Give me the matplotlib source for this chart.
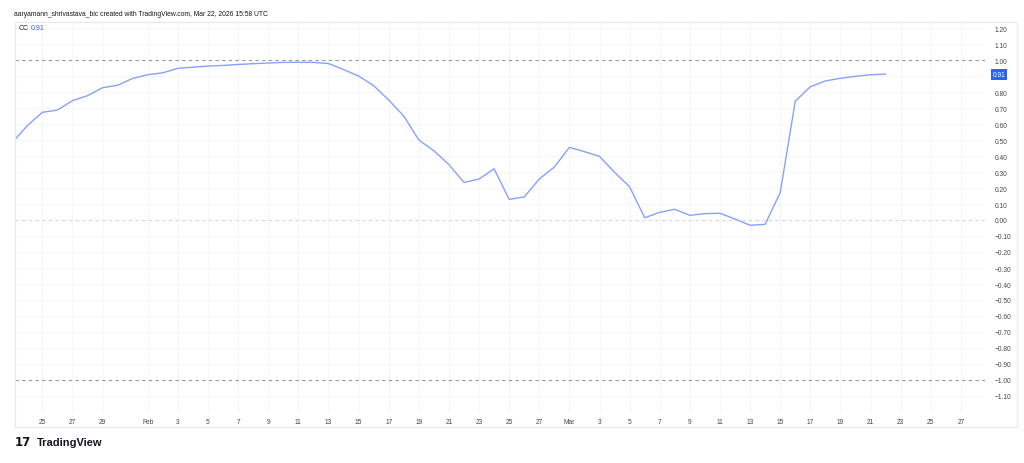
import matplotlib
matplotlib.use("Agg")
import matplotlib.pyplot as plt
import matplotlib.dates as mdates
from matplotlib.patches import Rectangle
import pandas as pd

# Correlation Coefficient (CC) daily values, Jan 23 -> Mar 22 2026
start_day = "2026-01-23"
cc_values = [
    0.484, 0.59, 0.673, 0.687, 0.746, 0.777, 0.827, 0.842, 0.885,            # Jan 23-31
    0.908, 0.92, 0.948, 0.955, 0.962, 0.966, 0.972, 0.977, 0.981, 0.985,     # Feb 1-10
    0.986, 0.985, 0.978, 0.94, 0.90, 0.84, 0.75, 0.65, 0.50, 0.433,          # Feb 11-20
    0.346, 0.235, 0.256, 0.32, 0.129, 0.144, 0.256, 0.331,                   # Feb 21-28
    0.454, 0.427, 0.398, 0.298, 0.208, 0.014, 0.048, 0.067, 0.029, 0.04,     # Mar 1-10
    0.042, 0.006, -0.033, -0.027, 0.171, 0.742, 0.833, 0.869, 0.886, 0.898,  # Mar 11-20
    0.908, 0.912,                                                            # Mar 21-22
]
last_label = "0.91"
tick_dates = (["2026-01-25", "2026-01-27", "2026-01-29", "2026-02-01"]
              + ["2026-02-%02d" % d for d in range(3, 28, 2)]
              + ["2026-03-01"]
              + ["2026-03-%02d" % d for d in range(3, 28, 2)])
tick_labels = (["25", "27", "29", "Feb"] + [str(d) for d in range(3, 28, 2)]
               + ["Mar"] + [str(d) for d in range(3, 28, 2)])
y_ticks = [round(-1.1 + 0.1 * i, 2) for i in range(24)]   # -1.10 .. 1.20
header = "aaryamann_shrivastava_bic created with TradingView.com, Mar 22, 2026 15:58 UTC"

dates = pd.date_range(start_day, periods=len(cc_values), freq="D")
ticks = pd.to_datetime(tick_dates)

plt.rcParams['font.family'] = ['Liberation Sans', 'DejaVu Sans']
W, H = 1024, 464
fig = plt.figure(figsize=(W / 100, H / 100), dpi=100)
fig.patch.set_facecolor('white')

# pane: x 14.5..985, y 23..413 (pixels)
ax = fig.add_axes([14.5 / W, 1 - 413 / H, (985 - 14.5) / W, (413 - 23) / H])
x0 = mdates.date2num(pd.Timestamp("2026-01-25"))
ax.set_xlim(x0 - 1.85, x0 + 62.6)
ax.set_ylim(-1.2, 1.2375)

grid_c = '#f3f5fa'
for t in ticks:
    ax.axvline(t, color=grid_c, lw=0.7, zorder=0)
for v in y_ticks:
    if abs(v) in (0.0, 1.0):
        continue
    ax.axhline(v, color=grid_c, lw=0.7, zorder=0)
ax.axhline(1.0, color='#9598a1', lw=0.8, ls=(0, (3, 3)), zorder=1)
ax.axhline(-1.0, color='#9598a1', lw=0.8, ls=(0, (3, 3)), zorder=1)
ax.axhline(0.0, color='#d6d8de', lw=0.8, ls=(0, (3, 3)), zorder=1)

ax.plot(dates, cc_values, color='#86a2fc', lw=1.0, zorder=3)

ax.set_xticks(ticks)
ax.set_xticklabels(tick_labels)
ax.tick_params(axis='x', length=0, pad=4, labelsize=4.8, colors='#434651')
ax.yaxis.tick_right()
ax.set_yticks(y_ticks)
# the 0.90 label is hidden under the last-value tag
ax.set_yticklabels(["" if v == 0.9 else ("%.2f" % v if v >= 0 else "\u2212%.2f" % abs(v))
                    for v in y_ticks])
ax.tick_params(axis='y', length=0, pad=7, labelsize=4.8, colors='#434651')
for lbl in ax.get_yticklabels():
    lbl.set_horizontalalignment('left')
for s in ax.spines.values():
    s.set_visible(False)

# last value tag
ax.annotate(last_label, xy=(1.0, cc_values[-1]), xycoords=('axes fraction', 'data'),
            xytext=(5.5, 0), textcoords='offset points', ha='left', va='center',
            fontsize=4.8, color='white',
            bbox=dict(boxstyle='square,pad=0.3', fc='#2962ff', ec='none'))

# outer frame
fig.patches.append(Rectangle((14.5 / W, 1 - 428 / H), (1017 - 14.5) / W, (428 - 23) / H,
                             transform=fig.transFigure, fill=False, ec='#e6e8ee', lw=0.8))

fig.text(14 / W, 1 - 15 / H, header, fontsize=4.9, color='#131722', va='center', ha='left')
fig.text(19 / W, 1 - 28.5 / H, "CC", fontsize=5, color='#131722', va='center', ha='left')
fig.text(30.5 / W, 1 - 28.5 / H, last_label, fontsize=5, color='#2962ff', va='center', ha='left')

fig.text(15 / W, 1 - 443 / H, "17", fontsize=8.5, fontweight='heavy', color='#131722',
         va='center', ha='left', family='DejaVu Sans')
fig.text(37 / W, 1 - 443 / H, "TradingView", fontsize=8, fontweight='bold', color='#131722',
         va='center', ha='left')

fig.savefig('out.png', dpi=100, facecolor='white')
